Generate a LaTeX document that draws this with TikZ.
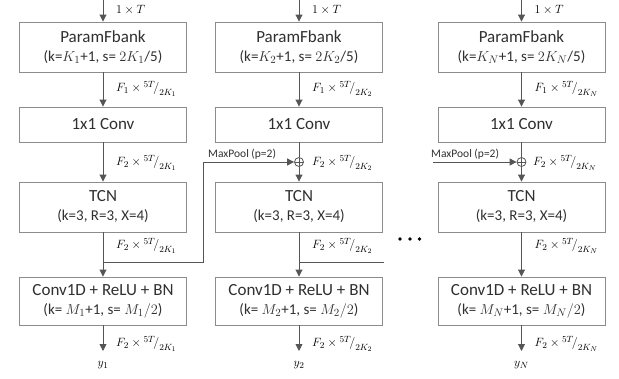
\documentclass[tikz,border=0pt]{standalone}
\usepackage{fontspec}
\setmainfont{Carlito}
\usetikzlibrary{arrows.meta}
\definecolor{boxgray}{HTML}{8C8C8C}
\definecolor{linegray}{HTML}{555555}
\definecolor{txt}{HTML}{303030}
% larger script sizes for the shape labels
\DeclareMathSizes{12}{12}{9.5}{7}
\newcommand{\dimlab}[3]{$F_{#1}\times{}^{5T}\!\big/_{2K_{#2}}$}
\begin{document}
\begin{tikzpicture}[x=1pt,y=-1pt,
  blk/.style={draw=boxgray, line width=0.9pt, fill=white, minimum width=167pt,
    minimum height=#1, align=center, text=txt, inner sep=0pt,
    font=\fontsize{17}{20}\selectfont},
  flow/.style={draw=linegray, line width=0.9pt, -{Triangle[length=7pt,width=7pt]}},
  plain/.style={draw=linegray, line width=0.9pt},
  dimtxt/.style={anchor=west, text=black, inner sep=0pt, font=\fontsize{12}{14}\selectfont},
  ylab/.style={text=black, inner sep=0pt, font=\fontsize{13}{15}\selectfont},
  pooltxt/.style={anchor=base west, text=txt, inner sep=0pt, font=\fontsize{11.5}{13}\selectfont},
  sumnode/.style={circle, draw=linegray, line width=0.8pt, fill=white, minimum size=9pt, inner sep=0pt,
    path picture={\draw[linegray, line width=0.8pt]
      (path picture bounding box.north) -- (path picture bounding box.south)
      (path picture bounding box.west) -- (path picture bounding box.east);}},
  dot/.style={circle, fill=black, minimum size=3.6pt, inner sep=0pt},
]
\useasboundingbox (0,0) rectangle (619,378);

% one processing column per branch: centre x, subscript, name suffix
\foreach \cx/\s/\n in {103/1/a, 299/2/b, 521.5/N/c} {
  \coordinate (in\n) at (\cx,0);
  \node[blk=50pt] (pf\n) at (\cx,47)
    {ParamFbank\\[-1pt]{\fontsize{15}{18}\selectfont (k=$K_\s$+1, s= $2K_\s$/5)}};
  \node[blk=35pt] (cv\n) at (\cx,124.5) {1x1 Conv};
  \node[blk=50pt] (tc\n) at (\cx,207)
    {TCN\\[-1pt]{\fontsize{15}{18}\selectfont (k=3, R=3, X=4)}};
  \node[blk=48pt] (cd\n) at (\cx,301)
    {Conv1D + ReLU + BN\\[-1pt]{\fontsize{15}{18}\selectfont (k= $M_\s$+1, s= $M_\s/2$)}};
  \coordinate (out\n) at (\cx,351);
  \coordinate (jn\n) at (\cx,262);
  \node[ylab] (y\n) at (\cx,365) {$y_\s$};

  \draw[flow] (in\n) -- (pf\n.north);
  \draw[flow] (pf\n.south) -- (cv\n.north);
  \draw[flow] (tc\n.south) -- (cd\n.north);
  \draw[flow] (cd\n.south) -- (out\n);

  \node[dimtxt] (t\n) at (\cx+13,10) {$1\times T$};
  \node[dimtxt] (fa\n) at (\cx+13,89) {\dimlab{1}{\s}{}};
  \node[dimtxt] (fc\n) at (\cx+13,246) {\dimlab{2}{\s}{}};
  \node[dimtxt] (fd\n) at (\cx+13,344) {\dimlab{2}{\s}{}};
}

% first branch: plain link into the TCN
\draw[flow] (cva.south) -- (tca.north);
\node[dimtxt] (fba) at (116,163) {\dimlab{2}{1}{}};

% second branch: pooled skip from the first branch is summed in
\node[sumnode] (sumb) at (299,162) {};
\draw[plain] (cvb.south) -- (sumb.north);
\draw[flow] (sumb.south) -- (tcb.north);
\coordinate (bendlo) at (203,262);
\coordinate (bendhi) at (203,162);
\draw[flow] (jna) -- (bendlo) -- (bendhi) -- (sumb.west);
\node[pooltxt] (poolb) at (208,157.5) {MaxPool (p=2)};
\node[dimtxt] (fbb) at (312,163) {\dimlab{2}{2}{}};
\coordinate (contb) at (384,262);
\draw[plain] (jnb) -- (contb);

% last branch
\node[sumnode] (sumc) at (521.5,162) {};
\draw[plain] (cvc.south) -- (sumc.north);
\draw[flow] (sumc.south) -- (tcc.north);
\coordinate (poolsrc) at (433,162);
\draw[flow] (poolsrc) -- (sumc.west);
\node[pooltxt] (poolc) at (431,157.5) {MaxPool (p=2)};
\node[dimtxt] (fbc) at (533,163) {\dimlab{2}{N}{}};

% ellipsis between branches
\node[dot] (d1) at (400,239) {};
\node[dot] (d2) at (410,239) {};
\node[dot] (d3) at (419.5,239) {};
\end{tikzpicture}
\end{document}
